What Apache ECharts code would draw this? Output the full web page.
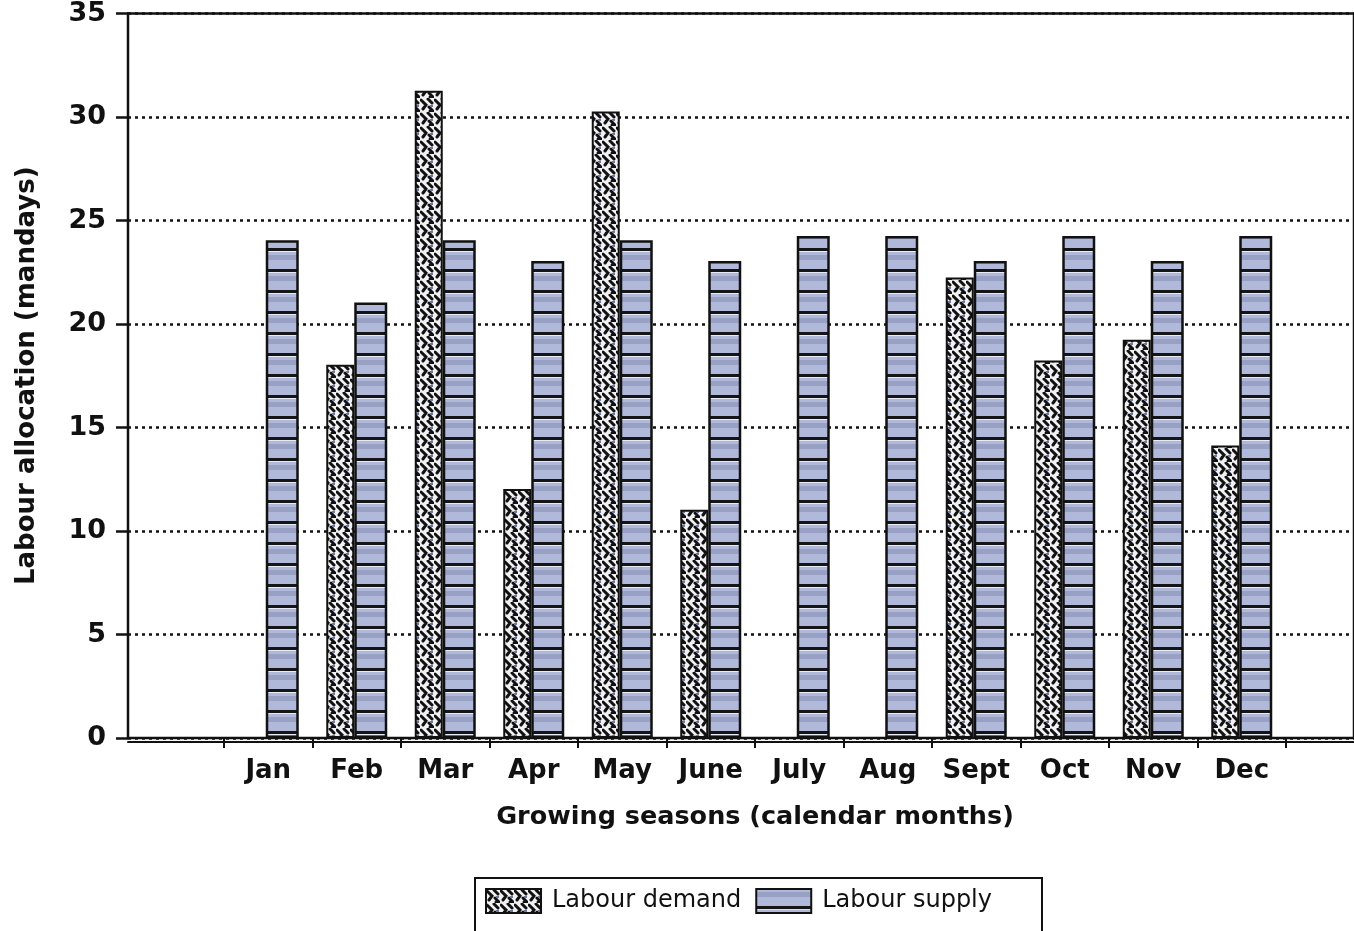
<!DOCTYPE html>
<html>
<head>
<meta charset="utf-8">
<title>Labour allocation by month</title>
<script src="https://cdn.jsdelivr.net/npm/echarts@6/dist/echarts.min.js"></script>
<style>
  html, body { margin: 0; padding: 0; background: #fff; }
  #chart { width: 1354px; height: 931px; }
</style>
</head>
<body>
<div id="chart"></div>
<script>
// Monthly labour figures (mandays)
const months = ['Jan', 'Feb', 'Mar', 'Apr', 'May', 'June', 'July', 'Aug', 'Sept', 'Oct', 'Nov', 'Dec'];
const labourDemand = [null, 18, 31.2, 12, 30.2, 11, null, null, 22.2, 18.2, 19.2, 14.1];
const labourSupply = [24, 21, 24, 23, 24, 23, 24.2, 24.2, 23, 24.2, 23, 24.2];
const yTicks = { min: 0, max: 35, step: 5 };

const FONT = '"DejaVu Sans", sans-serif';

// Hatched fill for the demand bars
function demandPattern() {
  const c = document.createElement('canvas');
  c.width = 14; c.height = 14;
  const g = c.getContext('2d');
  g.fillStyle = '#f1f1f4';
  g.fillRect(0, 0, 14, 14);
  g.strokeStyle = '#111';
  g.lineWidth = 3;
  g.lineCap = 'round';
  g.beginPath();
  g.moveTo(1, 2); g.lineTo(6, 7); g.lineTo(3, 11);
  g.moveTo(8, 1); g.lineTo(12, 5);
  g.moveTo(9, 9); g.lineTo(13, 13); g.lineTo(10, 13);
  g.stroke();
  g.fillStyle = '#6f7898';
  g.fillRect(10, 7, 3, 2);
  return c;
}

// Banded fill for the supply bars
function supplyPattern() {
  const c = document.createElement('canvas');
  c.width = 8; c.height = 21;
  const g = c.getContext('2d');
  g.fillStyle = '#b0b9da';
  g.fillRect(0, 0, 8, 21);
  g.fillStyle = '#98a1c4';
  g.fillRect(0, 3, 8, 5);
  g.fillStyle = '#151515';
  g.fillRect(0, 17, 8, 3);
  g.fillStyle = '#e8ebf6';
  g.fillRect(0, 20, 8, 1);
  return c;
}

const chart = echarts.init(document.getElementById('chart'), null, { renderer: 'canvas' });

chart.setOption({
  backgroundColor: '#ffffff',
  animation: false,
  grid: [
    { left: 128, right: -4, top: 12, bottom: 193, show: true, borderColor: '#111', borderWidth: 2.5 },
    { left: 224, width: 1062, top: 12, bottom: 193 }
  ],
  legend: {
    left: 475, top: 878,
    data: ['Labour demand', 'Labour supply'],
    icon: 'rect',
    itemWidth: 55, itemHeight: 24, itemGap: 14,
    borderColor: '#111', borderWidth: 2,
    padding: [10, 50, 30, 10],
    textStyle: { fontFamily: FONT, fontSize: 24, color: '#111', padding: [0, 0, 0, 6] }
  },
  xAxis: [
    {
      gridIndex: 0, type: 'value', min: 0, max: 1,
      axisLine: { show: true, onZero: false, lineStyle: { color: '#111', width: 2 } },
      offset: 4,
      axisTick: { show: false }, axisLabel: { show: false }, splitLine: { show: false }
    },
    {
      gridIndex: 1, type: 'category', data: months,
      axisLine: { show: false },
      axisTick: { show: true, interval: 0, length: 10, lineStyle: { color: '#111', width: 2 } },
      axisLabel: { interval: 0, hideOverlap: false, margin: 20, fontFamily: FONT, fontWeight: 'bold', fontSize: 26, color: '#111' },
      name: 'Growing seasons (calendar months)',
      nameLocation: 'middle', nameGap: 66,
      nameTextStyle: { fontFamily: FONT, fontWeight: 'bold', fontSize: 25.5, color: '#111' }
    }
  ],
  yAxis: [
    {
      gridIndex: 0, type: 'value',
      min: yTicks.min, max: yTicks.max, interval: yTicks.step,
      offset: 6,
      axisLine: { show: true, lineStyle: { color: '#111', width: 2 } },
      axisTick: { show: true, length: 12, lineStyle: { color: '#111', width: 2.5 } },
      axisLabel: { margin: 16, fontFamily: FONT, fontWeight: 'bold', fontSize: 27, color: '#111' },
      splitLine: { show: true, lineStyle: { color: '#111', width: 2.5, type: [3, 4] } },
      name: 'Labour allocation (mandays)',
      nameLocation: 'middle', nameGap: 82, nameRotate: 90,
      nameTextStyle: { fontFamily: FONT, fontWeight: 'bold', fontSize: 26, color: '#111' }
    },
    {
      gridIndex: 1, type: 'value',
      min: yTicks.min, max: yTicks.max, interval: yTicks.step,
      show: false
    }
  ],
  series: [
    {
      name: 'Labour demand', type: 'bar',
      xAxisIndex: 1, yAxisIndex: 1,
      data: labourDemand,
      barWidth: 28, barGap: '0%',
      itemStyle: { color: { image: demandPattern(), repeat: 'repeat' }, borderColor: '#111', borderWidth: 2 }
    },
    {
      name: 'Labour supply', type: 'bar',
      xAxisIndex: 1, yAxisIndex: 1,
      data: labourSupply,
      barWidth: 33,
      itemStyle: { color: { image: supplyPattern(), repeat: 'repeat' }, borderColor: '#111', borderWidth: 2.5 }
    }
  ]
});
</script>
</body>
</html>
